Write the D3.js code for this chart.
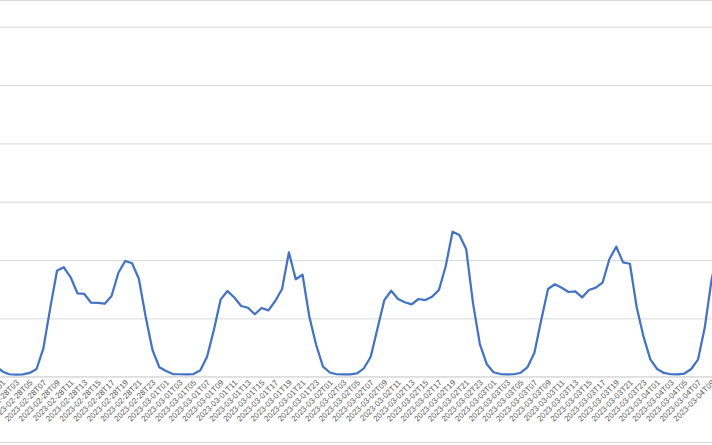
<!DOCTYPE html>
<html>
<head>
<meta charset="utf-8">
<script src="https://cdn.jsdelivr.net/npm/d3@7"></script>
<style>
  html, body { margin: 0; padding: 0; background: #ffffff; }
  svg { display: block; }
</style>
</head>
<body>
<svg id="chart" width="712" height="445"></svg>
<script>
// Hourly series starting 2023-02-28T00 (first point sits just left of the visible area)
const startHour = "2023-02-28T00";
const values = [
  9.2,
  4.5, 2.1, 1.8, 2.0, 3.2, 6.6, 24.3, 58.6, 90.8, 93.8, 85.2, 71.5,
  70.9, 63.4, 63.2, 62.6, 69.2, 89.1, 99.2, 97.2, 84.0, 51.4, 22.9, 8.1,
  4.9, 2.3, 2.1, 1.9, 2.3, 5.3, 17.1, 40.0, 66.3, 73.4, 67.9, 60.6,
  59.1, 53.5, 58.9, 56.9, 64.9, 75.2, 106.6, 83.5, 87.4, 51.4, 27.2, 8.6,
  3.6, 2.1, 1.9, 1.9, 2.9, 7.2, 17.1, 41.5, 65.7, 73.7, 66.6, 63.8,
  62.0, 66.6, 65.7, 68.6, 74.3, 94.9, 124.3, 121.4, 109.2, 62.9, 28.0, 10.9,
  3.8, 2.3, 2.0, 2.1, 3.4, 8.3, 20.6, 48.6, 75.2, 79.2, 76.3, 72.6,
  73.2, 68.0, 74.3, 76.3, 80.6, 100.9, 111.4, 98.0, 96.8, 59.5, 34.3, 14.9,
  6.6, 3.2, 2.1, 1.9, 2.7, 6.6, 14.9, 42.9, 84.0, 108.0
];
const yTicks = [0, 50, 100, 150, 200, 250, 300];

// Category labels (one per hour)
const parse = d3.utcParse("%Y-%m-%dT%H");
const fmt = d3.utcFormat("%Y-%m-%dT%H");
const t0 = parse(startHour);
const categories = values.map((v, i) => fmt(d3.utcHour.offset(t0, i)));
const tickLabels = categories.filter(c => +c.slice(11) % 2 === 1);

const svg = d3.select("#chart");
const W = 712, H = 445;
const step = 6.82;
const xFirst = 2.45 - step; // position of first category

const x = d3.scalePoint()
  .domain(categories)
  .range([xFirst, xFirst + step * (categories.length - 1)]);
const y = d3.scaleLinear().domain([0, 300]).range([376.7, 26.7]);

// outer chart border (top and bottom visible)
svg.append("line").attr("x1", 0).attr("x2", W).attr("y1", 0.5).attr("y2", 0.5)
  .attr("stroke", "#d9d9d9").attr("stroke-width", 1);
svg.append("line").attr("x1", 0).attr("x2", W).attr("y1", 442.5).attr("y2", 442.5)
  .attr("stroke", "#d9d9d9").attr("stroke-width", 1);

// gridlines
const yAxis = d3.axisLeft(y).tickValues(yTicks).tickSize(-W).tickFormat("");
const gy = svg.append("g").call(yAxis);
gy.select(".domain").remove();
gy.selectAll(".tick line").attr("stroke", "#d9d9d9").attr("stroke-width", 1);

// x axis
const xAxis = d3.axisBottom(x).tickValues(tickLabels).tickSize(0).tickPadding(0);
const gx = svg.append("g").attr("transform", `translate(0,${y(0)})`).call(xAxis);
gx.select(".domain").attr("d", `M0,0H${W}`).attr("stroke", "#d9d9d9").attr("stroke-width", 1);
gx.selectAll(".tick text")
  .attr("fill", "#595959")
  .attr("font-family", "Liberation Sans, Arial, sans-serif")
  .attr("font-size", "8px")
  .attr("text-anchor", "end")
  .attr("dy", 0)
  .attr("transform", "translate(3,6.5) rotate(-45)");

// line
const line = d3.line()
  .x((d, i) => x(categories[i]))
  .y(d => y(d));
svg.append("path")
  .datum(values)
  .attr("fill", "none")
  .attr("stroke", "#4472c4")
  .attr("stroke-width", 2.25)
  .attr("stroke-linejoin", "round")
  .attr("d", line);
</script>
</body>
</html>
